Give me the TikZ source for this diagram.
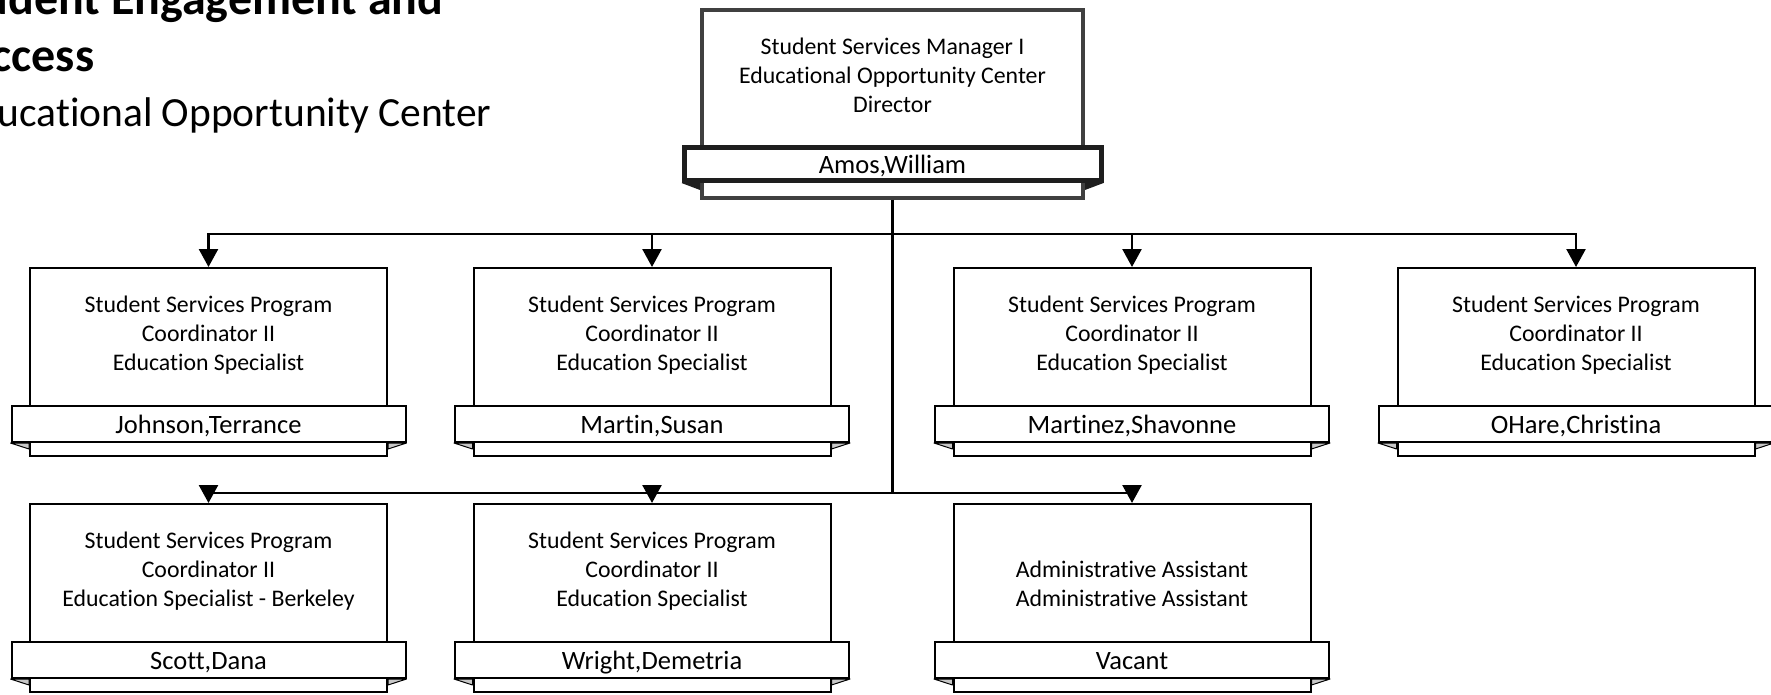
\documentclass[tikz,border=0pt]{standalone}
\usepackage{fontspec}
\setmainfont{Carlito}[Ligatures=NoCommon]
\usetikzlibrary{arrows.meta,positioning,calc}
\definecolor{framegray}{HTML}{404040}
\definecolor{bannerblack}{HTML}{1E1E1E}
\definecolor{foldgray}{HTML}{C8C8C8}
\tikzset{
  org/box/.style={draw, line width=2pt, minimum width=357pt, minimum height=188pt, inner sep=0pt},
  org/topbox/.style={org/box, draw=framegray, line width=4pt, minimum width=381pt, minimum height=188pt},
  org/banner/.style={draw, fill=white, line width=2pt, minimum width=394pt, minimum height=36pt, inner sep=0pt,
    text height=19.5pt, text depth=0pt, font=\fontsize{26.5}{30}\selectfont},
  org/topbanner/.style={org/banner, draw=bannerblack, line width=5pt, minimum width=417pt, minimum height=33pt},
  org/title/.style={align=center, inner sep=0pt, font=\fontsize{23.8}{29}\selectfont},
  org/fold/.style={draw, fill=foldgray, line width=1pt, line join=round},
  org/topfold/.style={fill=bannerblack},
  org/link/.style={line width=2.5pt},
  org/arrow/.style={org/link, -{Triangle[length=18pt,width=19pt]}},
  org/head/.style={anchor=base west, inner sep=0pt, font=\fontsize{48}{58}\selectfont\bfseries},
  org/subhead/.style={anchor=base west, inner sep=0pt, font=\fontsize{41.5}{50}\selectfont}
}

% position card: [title shift]{name}{x}{y}{job title}{person}
\newcommand{\poscard}[6][26.7pt]{%
  \node[org/box] (#2) at (#3,#4) {};
  \node[org/title] (#2-t) at ([yshift=#1]#2.center) {#5};
  \node[org/banner, above=14pt of #2.south] (#2-n) {#6};
  \draw[org/fold] (#2-n.south west) -- (#2-n.south west -| #2.west) -- ++(0,6) -- cycle;
  \draw[org/fold] (#2-n.south east) -- (#2-n.south east -| #2.east) -- ++(0,6) -- cycle;
}

\begin{document}
\begin{tikzpicture}[x=1pt, y=-1pt]
  \useasboundingbox (0,0) rectangle (1771,695);
  \clip (0,0) rectangle (1771,695);

  % heading, cut by the left edge
  \node[org/head] (hd1) at (-57,15) {Student Engagement and};
  \node[org/head] (hd2) at (-57,72) {Success};
  \node[org/subhead] (hd3) at (-44,127) {Educational Opportunity Center};

  % manager
  \node[org/topbox] (mgr) at (892.5,104) {};
  \node[org/title] (mgr-t) at ([yshift=29pt]mgr.center) {Student Services Manager I\\Educational Opportunity Center\\Director};
  \node[org/topbanner, above=17pt of mgr.south] (mgr-n) {Amos,William};
  \fill[org/topfold] (mgr-n.south west) -- (mgr-n.south west -| mgr.west) -- ++(0,7) -- cycle;
  \fill[org/topfold] (mgr-n.south east) -- (mgr-n.south east -| mgr.east) -- ++(0,7) -- cycle;

  % first row
  \poscard{c1}{208.5}{362}{Student Services Program\\Coordinator II\\Education Specialist}{Johnson,Terrance}
  \poscard{c2}{652}{362}{Student Services Program\\Coordinator II\\Education Specialist}{Martin,Susan}
  \poscard{c3}{1132}{362}{Student Services Program\\Coordinator II\\Education Specialist}{Martinez,Shavonne}
  \poscard{c4}{1576}{362}{Student Services Program\\Coordinator II\\Education Specialist}{OHare,Christina}

  % second row
  \poscard{c5}{208.5}{598}{Student Services Program\\Coordinator II\\Education Specialist - Berkeley}{Scott,Dana}
  \poscard{c6}{652}{598}{Student Services Program\\Coordinator II\\Education Specialist}{Wright,Demetria}
  \poscard[14.5pt]{c7}{1132}{598}{Administrative Assistant\\Administrative Assistant}{Vacant}

  % reporting lines
  \coordinate (bus1) at (892.5,234);
  \coordinate (bus2) at (892.5,493);
  \draw[org/link] (mgr) -- (bus2);
  \draw[org/arrow] (bus1) -| (c1);
  \draw[org/arrow] (bus1) -| (c2);
  \draw[org/arrow] (bus1) -| (c3);
  \draw[org/arrow] (bus1) -| (c4);
  \draw[org/arrow] (bus2) -| (c5);
  \draw[org/arrow] (bus2) -| (c6);
  \draw[org/arrow] (bus2) -| (c7);
\end{tikzpicture}
\end{document}
